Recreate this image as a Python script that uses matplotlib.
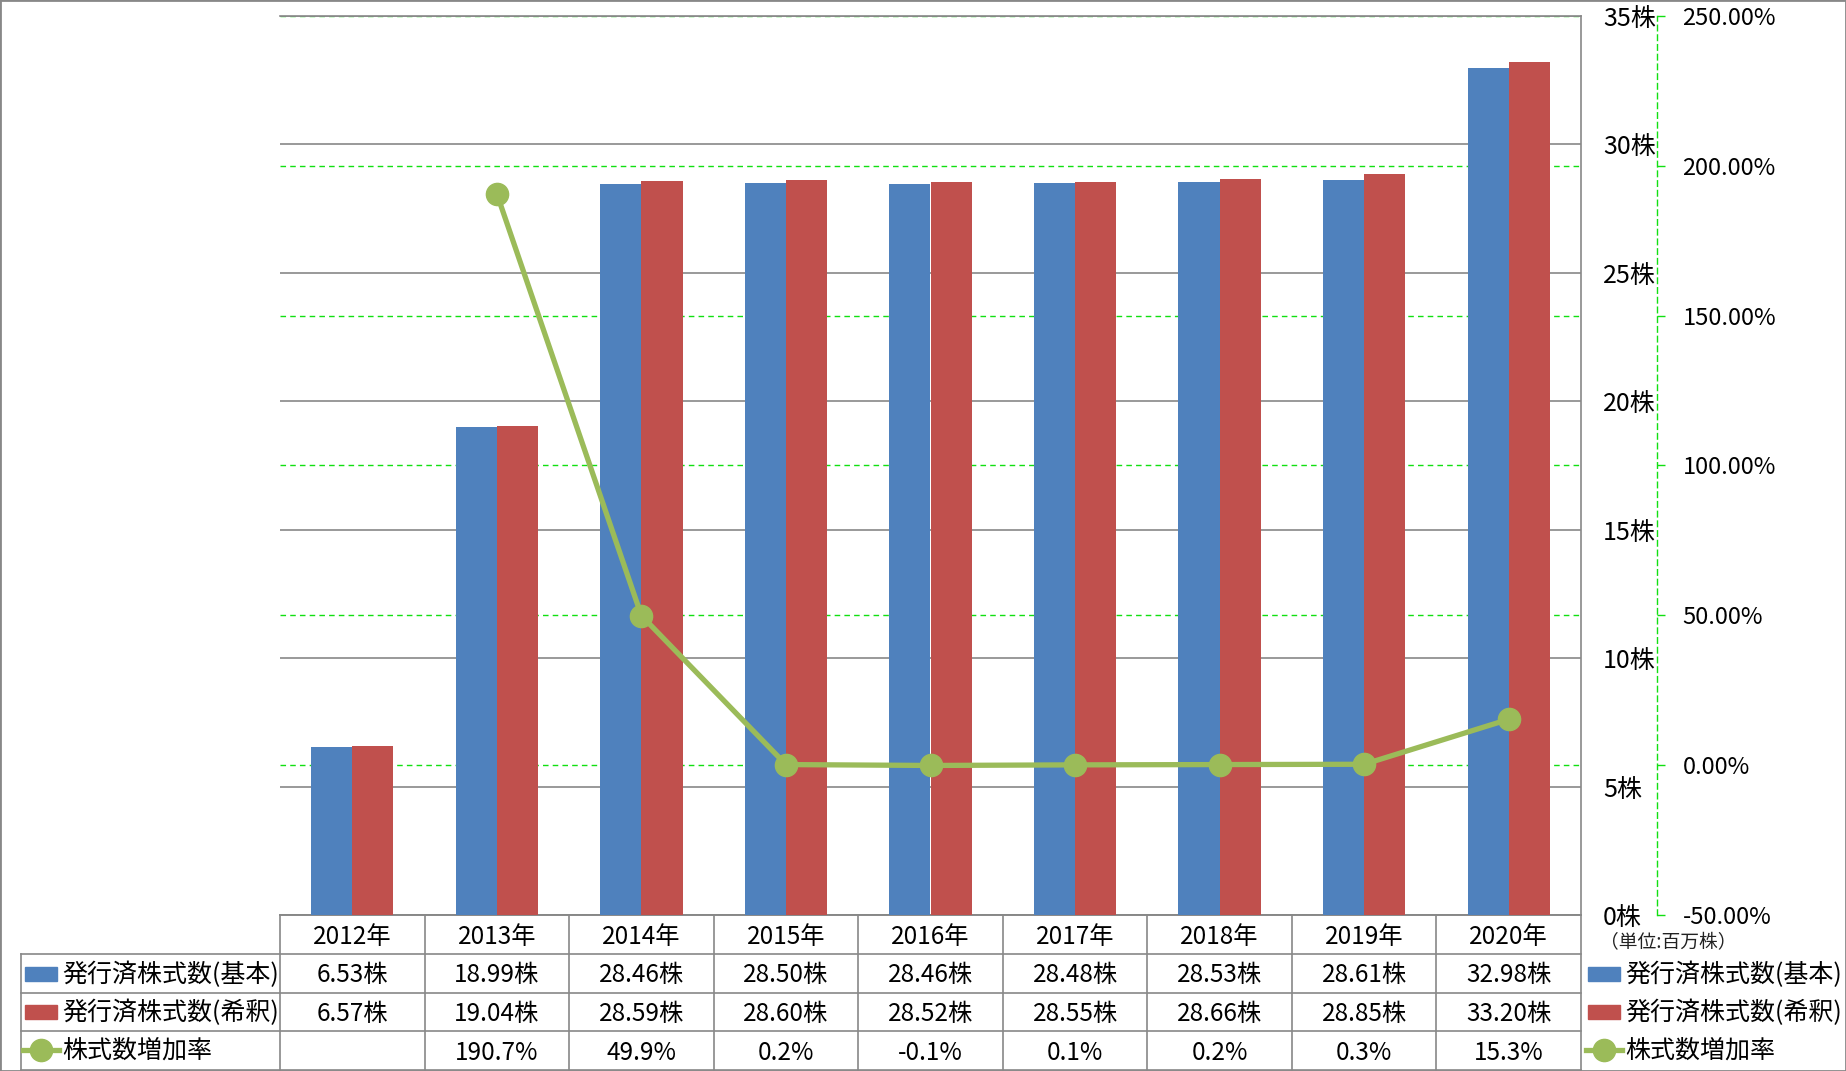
import numpy as np
import matplotlib
matplotlib.use('Agg')
import matplotlib.pyplot as plt
from matplotlib.patches import Rectangle
from matplotlib.lines import Line2D

plt.rcParams['font.family'] = ['Noto Sans CJK JP', 'DejaVu Sans']

# data
years = ['2012', '2013', '2014', '2015', '2016', '2017', '2018', '2019', '2020']
basic = [6.53, 18.99, 28.46, 28.50, 28.46, 28.48, 28.53, 28.61, 32.98]
diluted = [6.57, 19.04, 28.59, 28.60, 28.52, 28.55, 28.66, 28.85, 33.20]
growth = [np.nan, 190.7, 49.9, 0.2, -0.1, 0.1, 0.2, 0.3, 15.3]
names = ['発行済株式数(基本)', '発行済株式数(希釈)', '株式数増加率']

c_blue = '#4F81BD'
c_red = '#C0504D'
c_green = '#9BBB59'
c_grid2 = '#11e011'
c_line = '#888888'

W, H = 1846, 1071
fig = plt.figure(figsize=(W / 100, H / 100), dpi=100)

def fy(py):
    return 1 - py / H

# main plot area 280..1581 x 16..915 px
ax = fig.add_axes([280 / W, fy(915), 1301 / W, 899 / H])
ax2 = ax.twinx()
ax3 = ax.twinx()
ax2.set_zorder(1)
ax.set_zorder(2)
ax3.set_zorder(3)
ax.patch.set_visible(False)

x = np.arange(len(years))
bw = 0.285
ax.bar(x - bw / 2, basic, bw, color=c_blue, zorder=3)
ax.bar(x + bw / 2, diluted, bw, color=c_red, zorder=3)
ax.set_xlim(-0.5, 8.5)
ax.set_ylim(0, 35)
ax.set_yticks(range(0, 36, 5))
ax.set_yticklabels([f'{v}株' for v in range(0, 36, 5)])
ax.yaxis.tick_right()
ax.tick_params(axis='y', length=0, pad=16, labelsize=18)
ax.set_xticks([])
ax.yaxis.grid(True, color=c_line, lw=1.2)
ax.set_axisbelow(True)
for s in ['top', 'right', 'bottom']:
    ax.spines[s].set_color(c_line)
    ax.spines[s].set_linewidth(1.2)
ax.spines['left'].set_visible(False)

# secondary axis (grid + ticks)
ax2.set_ylim(-50, 250)
ax2.set_yticks(range(-50, 251, 50))
ax2.set_yticklabels([f'{v:.2f}%' for v in range(-50, 251, 50)])
ax2.get_yticklabels()[0].set_color('red')
ax2.yaxis.grid(True, color=c_grid2, lw=1.0, ls=(0, (4, 3)))
gl = ax2.yaxis.get_gridlines()
gl[0].set_visible(False)
gl[-1].set_visible(False)
ax2.tick_params(axis='y', direction='out', length=6, width=1, color=c_grid2,
                pad=12, labelsize=17)
for s in ['top', 'left', 'bottom']:
    ax2.spines[s].set_visible(False)
ax2.spines['right'].set_position(('outward', 55))
ax2.spines['right'].set_color(c_grid2)
ax2.spines['right'].set_linestyle((0, (4, 3)))
ax2.spines['right'].set_linewidth(1.0)

# line on top
ax3.set_ylim(-50, 250)
ax3.plot(x, growth, color=c_green, lw=3.8, marker='o', ms=16, solid_capstyle='round')
ax3.axis('off')

# data table below
unit = 1301 / 9
x0 = -0.5 - (280 - 21) / unit
tab = fig.add_axes([21 / W, fy(1070), 1560 / W, 155 / H])
tab.set_xlim(x0, 8.5)
tab.set_ylim(4, 0)
tab.set_axis_off()
lk = dict(color=c_line, lw=1.2, clip_on=False)
tab.plot([-0.5, 8.5], [0, 0], **lk)
for r in [1, 2, 3, 4]:
    tab.plot([x0, 8.5], [r, r], **lk)
for b in np.arange(-0.5, 9, 1):
    tab.plot([b, b], [0, 4], **lk)
tab.plot([x0, x0], [1, 4], **lk)

fs = 17.5
dy = 0.56
for i, yr in enumerate(years):
    tab.text(i, 0 + dy, f'{yr}年', ha='center', va='center', fontsize=fs)
    tab.text(i, 1 + dy, f'{basic[i]:.2f}株', ha='center', va='center', fontsize=fs)
    tab.text(i, 2 + dy, f'{diluted[i]:.2f}株', ha='center', va='center', fontsize=fs)
    if not np.isnan(growth[i]):
        tab.text(i, 3 + dy, f'{growth[i]:.1f}%', ha='center', va='center', fontsize=fs)

# legend keys: left row labels and right legend
row_y = [974, 1012, 1050]

def legend_rows(px_key, px_text):
    for k, (name, yy) in enumerate(zip(names, row_y)):
        if k < 2:
            fig.add_artist(Rectangle((px_key / W, fy(yy + 7)), 32 / W, 14 / H,
                                     transform=fig.transFigure,
                                     color=[c_blue, c_red][k]))
        else:
            fig.add_artist(Line2D([(px_key - 2) / W, (px_key + 34) / W], [fy(yy), fy(yy)],
                                  transform=fig.transFigure, color=c_green, lw=3.8))
            fig.add_artist(Line2D([(px_key + 16) / W], [fy(yy)], transform=fig.transFigure,
                                  color=c_green, marker='o', ms=16))
        fig.text(px_text / W, fy(yy + 1), name, ha='left', va='center', fontsize=18)

legend_rows(25, 62)
legend_rows(1588, 1625)

fig.text(1600 / W, fy(943), '（単位:百万株）', ha='left', va='center', fontsize=13.5,
         color='#222222')

fig.add_artist(Rectangle((0, 0), 1, 1, transform=fig.transFigure, fill=False,
                         edgecolor=c_line, lw=2))

fig.savefig('out.png', dpi=100)
